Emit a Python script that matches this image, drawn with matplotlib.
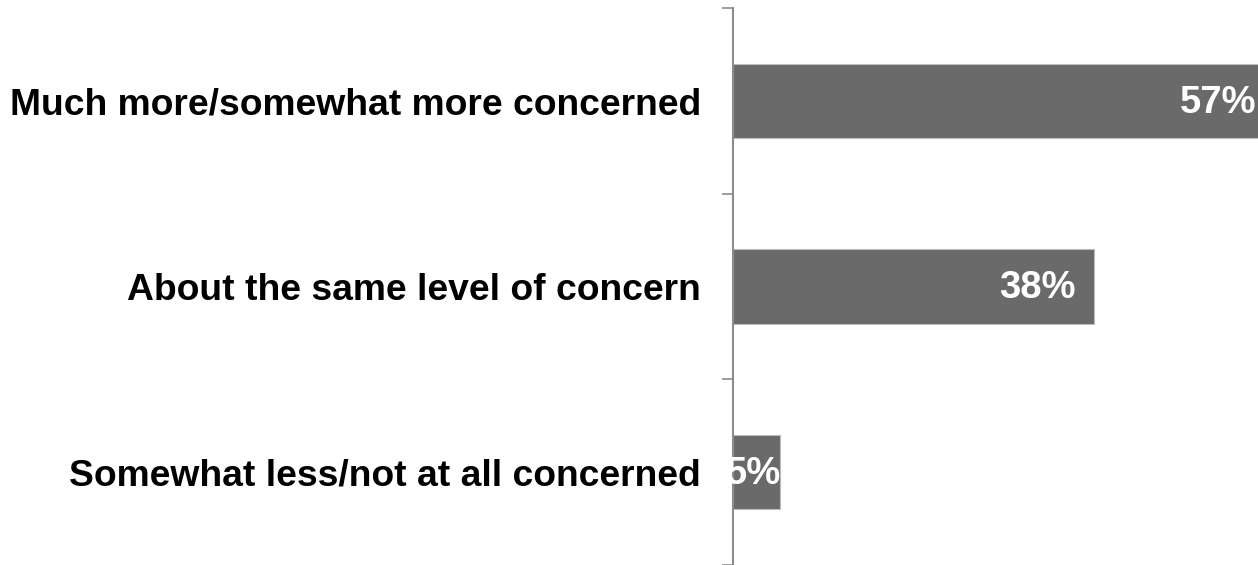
import numpy as np
import matplotlib.pyplot as plt

categories = ['Much more/somewhat more concerned',
              'About the same level of concern',
              'Somewhat less/not at all concerned']
values = [57, 38, 5]


def main():
    plt.rcParams['font.family'] = ['Liberation Sans', 'DejaVu Sans']
    fig = plt.figure(figsize=(12.58, 5.65), dpi=100)
    # axes runs past the right edge, so the longest bar gets cut off there
    ax = fig.add_axes([733 / 1258, 0.0, 570 / 1258, 1 - 8 / 565])

    y = np.arange(len(categories))
    ax.barh(y, values, height=0.4, color='#6a6a6a', edgecolor='#bdbdbd', linewidth=0.8)
    ax.set_xlim(0, 60)
    ax.set_ylim(len(categories) - 0.5, -0.5)

    for yi, v in zip(y, values):
        if v < 10:
            # label wider than the bar: center it
            ax.text(v / 2 - 0.3, yi + 0.01, '{}%'.format(v), ha='center', va='center',
                    color='white', fontsize=27.5, fontweight='bold')
        else:
            ax.annotate('{}%'.format(v), (v, yi + 0.01), xytext=(-13, 0),
                        textcoords='offset points', ha='right', va='center',
                        color='white', fontsize=27.5, fontweight='bold')

    ax.set_yticks(y)
    ax.set_yticklabels(categories, fontsize=26.8, fontweight='bold')
    ax.tick_params(axis='y', which='major', length=0, pad=23)
    ax.set_yticks(np.arange(-0.5, len(categories), 1.0), minor=True)
    ax.tick_params(axis='y', which='minor', length=8, width=1.2, color='#8c8c8c')
    ax.set_xticks([])

    for s in ['top', 'right', 'bottom']:
        ax.spines[s].set_visible(False)
    ax.spines['left'].set_color('#8c8c8c')
    ax.spines['left'].set_linewidth(1.5)

    fig.savefig('out.png', dpi=100)


if __name__ == "__main__":
    main()
